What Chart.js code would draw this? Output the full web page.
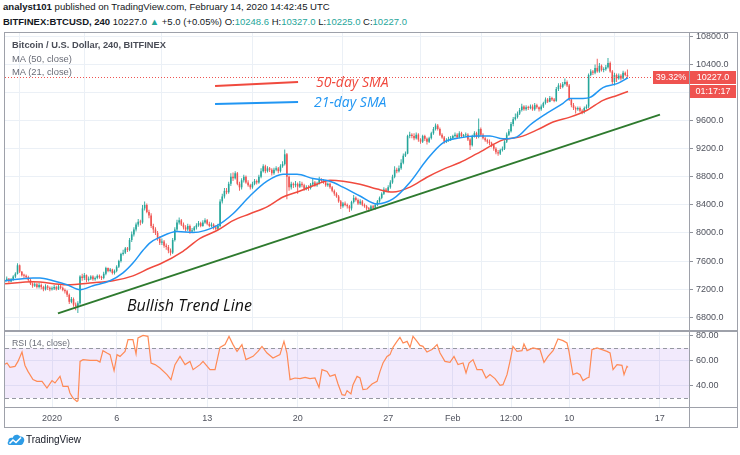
<!DOCTYPE html>
<html><head><meta charset="utf-8">
<script src="https://cdn.jsdelivr.net/npm/chart.js@4.4.0/dist/chart.umd.min.js"></script>
<style>
html,body{margin:0;padding:0;background:#fff;width:740px;height:455px;overflow:hidden;}
#wrap{position:relative;width:740px;height:455px;font-family:"Liberation Sans",Arial,sans-serif;}
.t{position:absolute;white-space:nowrap;line-height:12px;}
.g{color:#26a69a;}
.ln{position:absolute;background:#9ea1aa;z-index:5;}
canvas{position:absolute;}
</style></head><body>
<div id="wrap">
  <div class="t" data-w="327" style="left:3px;top:1px;font-size:10px;color:#131722"><b>analyst101</b> published on TradingView.com, February 14, 2020 14:42:45 UTC</div>
  <div class="t" data-w="404" style="left:3px;top:16px;font-size:10px;color:#131722"><b>BITFINEX:BTCUSD, 240</b> 10227.0 <span class="g">▲</span> +5.0 (+0.05%) O:<span class="g">10248.6</span> H:<span class="g">10327.0</span> L:<span class="g">10225.0</span> C:<span class="g">10227.0</span></div>

  <canvas id="main" width="733" height="297" style="left:5px;top:33px"></canvas>
  <canvas id="rsi" width="733" height="96" style="left:5px;top:332px"></canvas>

  <div class="ln" style="left:4px;top:32px;width:734px;height:1px"></div>
  <div class="ln" style="left:4px;top:427px;width:734px;height:1px"></div>
  <div class="ln" style="left:4px;top:32px;width:1px;height:396px"></div>
  <div class="ln" style="left:737px;top:32px;width:1px;height:396px"></div>
  <div class="ln" style="left:4px;top:330px;width:734px;height:2px"></div>
  <div class="ln" style="left:4px;top:407px;width:734px;height:1px"></div>
  <div class="ln" style="left:689px;top:32px;width:1px;height:396px"></div>

  <div class="t" data-w="154" style="left:12px;top:39px;font-size:10px;color:#4a4d57;font-weight:bold">Bitcoin / U.S. Dollar, 240, BITFINEX</div>
  <div class="t" data-w="60" style="left:12px;top:53px;font-size:10px;color:#6a6d78">MA (50, close)</div>
  <div class="t" data-w="60" style="left:12px;top:66px;font-size:10px;color:#6a6d78">MA (21, close)</div>
  <div class="t" data-w="58" style="left:12px;top:337px;font-size:10px;color:#6a6d78">RSI (14, close)</div>

  <svg style="position:absolute;left:7px;top:432px" width="18" height="14" viewBox="0 0 18 14">
    <path d="M3 13 C0.5 13 0 10.5 1.5 9 C1 6.5 3.5 5 5.5 6 C6.5 2.5 11 1.5 13 4.5 C16.5 4 18.5 7.5 16.5 10.5 C16 12.5 14.5 13 13 13 Z" fill="#2e9ce6"/>
    <path d="M2.5 11.5 L6 8 L9 10.5 L14 5.5" stroke="#fff" stroke-width="1.6" fill="none"/>
  </svg>
  <div class="t" data-w="55" style="left:26px;top:434px;font-size:11px;color:#131722">TradingView</div>
</div>
<script>
// ---------------- data ----------------
const candleStart = '2019-12-28T08:00:00Z';
const candleHours = 4;
const refDate = '2020-01-01T00:00:00Z';
const firstOpen = 7300;
const closes = [
 7330,7350,7310,7340,
 7380,7420,7540,7450,7400,7390,
 7370,7330,7280,7250,7270,7230,
 7260,7230,7200,7240,7220,7200,
 7210,7230,7200,7240,7220,7190,
 7170,7120,7020,7060,6980,6960,
 7000,7380,7360,7400,7330,7350,
 7380,7340,7360,7390,7370,7360,
 7420,7500,7460,7480,7430,7460,
 7520,7600,7700,7720,7780,7760,
 7900,7980,8050,8120,8160,8150,
 8350,8400,8300,8250,8100,8050,
 8000,7920,7860,7880,7820,7800,
 7750,7720,7900,8050,8150,8180,
 8120,8080,8050,8100,8020,8040,
 8080,8110,8140,8100,8150,8180,
 8130,8100,8120,8080,8060,8100,
 8450,8520,8600,8580,8700,8800,
 8780,8850,8700,8650,8750,8800,
 8720,8680,8650,8700,8740,8720,
 8800,8880,8950,8880,8920,8900,
 8850,8900,8920,8880,8950,8980,
 9120,8800,8650,8700,8680,8700,
 8660,8700,8680,8630,8650,8640,
 8690,8720,8680,8700,8760,8740,
 8720,8680,8700,8650,8600,8560,
 8520,8450,8380,8420,8400,8380,
 8350,8440,8500,8470,8420,8450,
 8400,8380,8350,8340,8380,8360,
 8400,8450,8500,8560,8620,8600,
 8650,8720,8800,8900,8880,8920,
 9000,9100,9130,9380,9400,9380,
 9350,9400,9330,9300,9380,9340,
 9300,9350,9420,9480,9530,9480,
 9400,9360,9300,9320,9340,9350,
 9380,9400,9360,9420,9380,9390,
 9400,9330,9250,9380,9420,9370,
 9480,9400,9350,9320,9300,9280,
 9250,9200,9150,9130,9180,9200,
 9300,9400,9450,9550,9620,9650,
 9700,9750,9800,9760,9790,9780,
 9800,9760,9820,9790,9760,9800,
 9850,9900,9870,9920,9900,9880,
 10050,10100,10080,10120,10150,10100,
 9900,9820,9780,9760,9780,9740,
 9720,9780,9800,10250,10300,10280,
 10350,10300,10380,10320,10330,10360,
 10420,10300,10150,10250,10200,10240,
 10200,10280,10249,10227
];
const highs = [
 7350,7380,7360,7360,
 7400,7440,7570,7550,7460,7420,
 7410,7390,7350,7300,7300,7290,
 7290,7280,7250,7270,7260,7240,
 7240,7260,7250,7270,7260,7240,
 7210,7190,7140,7090,7080,7010,
 7030,7400,7420,7430,7410,7380,
 7400,7400,7380,7410,7410,7390,
 7450,7520,7510,7500,7490,7480,
 7540,7620,7720,7760,7800,7800,
 7930,8020,8080,8150,8200,8190,
 8400,8450,8420,8330,8280,8130,
 8080,8030,7950,7920,7900,7850,
 7830,7780,7930,8080,8190,8220,
 8200,8150,8110,8130,8120,8070,
 8100,8140,8170,8160,8180,8210,
 8200,8160,8150,8140,8110,8130,
 8480,8560,8640,8640,8730,8850,
 8860,8880,8870,8730,8780,8830,
 8820,8750,8700,8730,8770,8760,
 8830,8920,8980,8970,8950,8940,
 8920,8930,8950,8940,8980,9020,
 9190,9140,8820,8730,8720,8740,
 8720,8740,8730,8700,8680,8680,
 8710,8780,8740,8730,8800,8780,
 8770,8750,8720,8720,8670,8620,
 8580,8540,8470,8440,8450,8420,
 8400,8460,8540,8520,8490,8480,
 8470,8420,8400,8370,8400,8400,
 8420,8470,8520,8580,8650,8640,
 8680,8750,8830,8950,8930,8960,
 9050,9130,9160,9400,9440,9420,
 9420,9430,9420,9350,9400,9400,
 9360,9370,9440,9510,9560,9550,
 9500,9420,9380,9350,9370,9380,
 9400,9430,9420,9450,9440,9410,
 9430,9420,9350,9400,9450,9440,
 9630,9500,9420,9370,9340,9330,
 9300,9270,9220,9180,9200,9230,
 9320,9430,9480,9580,9650,9700,
 9730,9780,9840,9820,9820,9810,
 9830,9830,9850,9840,9800,9830,
 9870,9930,9920,9950,9940,9920,
 10080,10130,10130,10150,10200,10170,
 10120,9920,9850,9800,9800,9800,
 9760,9800,9830,10270,10330,10320,
 10400,10480,10420,10400,10360,10390,
 10490,10440,10320,10280,10270,10270,
 10260,10310,10300,10327
];
const lows = [
 7280,7310,7290,7300,
 7320,7360,7410,7430,7380,7360,
 7340,7310,7260,7220,7230,7210,
 7210,7200,7170,7180,7190,7170,
 7180,7190,7180,7190,7200,7170,
 7140,7090,6990,7000,6950,6900,
 6860,6980,7320,7330,7300,7310,
 7330,7320,7320,7340,7350,7330,
 7340,7400,7440,7440,7410,7410,
 7440,7500,7580,7680,7700,7730,
 7740,7870,7950,8020,8090,8110,
 8130,8320,8280,8210,8070,8000,
 7970,7890,7830,7830,7790,7760,
 7710,7680,7700,7880,8020,8120,
 8100,8050,8020,8030,7990,8000,
 8020,8050,8090,8080,8090,8130,
 8110,8080,8080,8050,8040,8040,
 8080,8420,8490,8550,8560,8670,
 8740,8760,8680,8600,8620,8720,
 8700,8660,8620,8630,8680,8690,
 8700,8780,8860,8850,8860,8870,
 8820,8830,8880,8850,8860,8930,
 8960,8480,8600,8620,8640,8650,
 8560,8640,8650,8600,8610,8600,
 8620,8670,8660,8660,8690,8710,
 8700,8660,8660,8630,8580,8530,
 8500,8430,8340,8360,8380,8350,
 8300,8320,8420,8450,8400,8400,
 8380,8360,8320,8300,8320,8340,
 8330,8380,8430,8480,8540,8580,
 8580,8630,8700,8780,8850,8860,
 8900,8980,9080,9120,9350,9350,
 9320,9330,9300,9270,9280,9310,
 9260,9280,9330,9400,9460,9460,
 9380,9340,9270,9280,9300,9310,
 9330,9360,9340,9350,9360,9360,
 9370,9310,9180,9230,9360,9340,
 9350,9380,9330,9300,9270,9250,
 9220,9170,9120,9100,9110,9160,
 9180,9280,9380,9430,9520,9600,
 9630,9680,9730,9740,9740,9750,
 9760,9740,9740,9770,9730,9740,
 9780,9830,9850,9860,9880,9860,
 9870,10020,10050,10060,10100,10080,
 9880,9790,9750,9700,9740,9720,
 9690,9700,9760,9780,10230,10250,
 10260,10280,10280,10300,10290,10310,
 10340,10280,10120,10100,10150,10180,
 10170,10190,10230,10225
];
// moving averages: [day since 2020-01-01, price]
const ma50 = [[-3.63,7277],[-1.47,7305],[1.16,7263],[3.17,7291],[4.72,7319],[6.26,7390],[7.58,7502],[8.35,7558],[10.13,7740],[11.45,7923],[12.76,8035],[14.0,8176],[15.31,8274],[16.63,8372],[17.87,8512],[19.18,8597],[20.49,8695],[21.5,8751],[23.82,8695],[25.14,8625],[26.37,8582],[27.69,8653],[29.0,8793],[30.24,8905],[31.55,9004],[32.87,9130],[34.88,9326],[36.19,9368],[37.51,9467],[38.75,9579],[40.06,9649],[41.38,9747],[42.61,9888],[43.70,9958],[44.55,10014]];
const ma21 = [[-3.63,7320],[-1.47,7361],[-0.93,7361],[0.08,7320],[1.16,7263],[2.17,7193],[3.17,7249],[4.49,7320],[5.49,7432],[6.26,7572],[7.04,7754],[7.58,7860],[8.35,7940],[9.67,8021],[10.9,8007],[12.76,8105],[14.0,8274],[15.31,8527],[16.63,8737],[17.87,8835],[18.95,8835],[20.19,8775],[21.5,8737],[22.5,8653],[23.82,8526],[25.14,8414],[26.37,8484],[27.69,8723],[29.0,9046],[30.24,9284],[31.55,9354],[32.87,9380],[33.87,9382],[34.88,9340],[35.96,9368],[36.97,9537],[38.28,9705],[39.52,9846],[40.06,9916],[41.07,9916],[41.61,9930],[42.61,10070],[43.70,10126],[44.55,10210]];
const rsi14 = [[-3.63,57],[-3.48,58],[-3.25,54.5],[-2.86,55.3],[-2.63,59.3],[-2.32,66.8],[-2.09,56],[-1.86,51.3],[-1.47,44.7],[-1.16,43.3],[-0.77,43.3],[-0.39,38],[0,43.9],[0.23,42],[0.62,47.3],[0.85,39.3],[1.24,39.3],[1.39,34],[1.62,30],[1.93,27.3],[2.01,27.9],[2.17,59.3],[2.40,60.7],[2.94,60.1],[3.48,60.1],[3.71,58.8],[3.94,67.9],[4.25,66],[4.49,64.7],[4.80,51.9],[5.03,64.7],[5.26,63.3],[5.65,67.3],[5.88,76.7],[6.26,76.7],[6.50,65.2],[6.65,78.1],[7.04,80.1],[7.42,79.3],[7.66,58],[7.97,56.7],[8.35,54],[8.89,48.7],[9.20,44.7],[9.51,56.7],[9.90,63.3],[10.29,56.7],[10.67,59.3],[10.91,52.7],[11.45,56.7],[11.68,59.3],[12.22,52.7],[12.61,52.7],[12.99,70.5],[13.38,72.7],[13.69,79.3],[14.00,72.7],[14.31,67.3],[14.69,72.7],[15.00,60.7],[15.55,63.3],[15.93,67.3],[16.24,71.3],[16.63,66],[17.09,62],[17.63,64.7],[17.94,75.3],[18.17,66],[18.41,44.7],[18.79,46],[19.18,45.5],[19.57,46.5],[19.95,45.5],[20.34,46],[20.65,38.5],[20.88,52.7],[21.27,51.3],[21.50,47.3],[21.89,48.7],[22.12,41.2],[22.43,32.7],[22.66,32.1],[22.82,35.9],[23.12,33.2],[23.28,40.7],[23.59,47.3],[23.82,46],[24.05,36.7],[24.36,37.2],[24.75,41.2],[25.14,43.3],[25.37,51.3],[25.60,58],[25.91,63.3],[26.14,64.7],[26.37,70.5],[26.68,75.3],[26.91,78.5],[27.15,74],[27.46,75.3],[27.69,70.5],[27.92,79.3],[28.23,75.3],[28.46,72.1],[28.69,71.3],[29.00,66.8],[29.39,68.7],[29.78,72.7],[30.01,66],[30.39,59.3],[30.78,58.5],[31.09,63.3],[31.40,56.7],[31.79,58],[32.02,50],[32.25,58],[32.56,60.7],[32.87,52.7],[33.26,52.7],[33.57,46],[33.87,48.7],[34.26,45.5],[34.65,40.1],[34.88,40.7],[35.19,48.7],[35.42,59.3],[35.65,71.3],[35.96,67.3],[36.35,67.9],[36.50,73.2],[36.74,67.9],[37.20,70],[37.74,68.7],[38.05,58.5],[38.36,63.3],[38.75,67.9],[39.13,77.2],[39.52,75.9],[39.83,74],[39.98,67.3],[40.29,48.7],[40.60,50],[40.84,48.7],[41.07,43.9],[41.38,46],[41.53,46.5],[41.76,68.7],[42.15,70],[42.54,68.7],[42.92,67.3],[43.16,66],[43.39,52.7],[43.70,56.7],[44.08,56.1],[44.24,48.7],[44.47,55.3],[44.55,54.5]];
const trendLine = [[0.46,6855],[47.02,9685]];
const priceTicks = [6800,7200,7600,8000,8400,8800,9200,9600,10000,10400,10800];
const rsiTicks = [40,60,80];
const rsiBand = [30,70];
const xTickDays = [0,5,12,19,26,31,35.5,40,47];
const xTickLabels = ['2020','6','13','20','27','Feb','12:00','10','17'];
const lastPrice = 10227.0;
const lastPct = '39.32%';
const countdown = '01:17:17';

// ---------------- build ----------------
document.querySelectorAll('[data-w]').forEach(el=>{
  const w=+el.dataset.w, fs=parseFloat(getComputedStyle(el).fontSize);
  const a=el.getBoundingClientRect().width;
  if(a>0) el.style.fontSize=(fs*w/a).toFixed(2)+'px';
});

const UP='#26a69a', DN='#ef5350';
const DAY=864e5;
const t0=(Date.parse(candleStart)-Date.parse(refDate))/DAY;
const candles=closes.map((c,i)=>{
  const o=i===0?firstOpen:closes[i-1];
  return {x:t0+i*candleHours/24,o,c,h:Math.max(highs[i],o,c),l:Math.min(lows[i],o,c)};
});
const X_MIN=-3.635, X_MAX=49.265;
const GRID='#ebf0f6';
const tickFont={family:'"Liberation Sans", Arial, sans-serif',size:9};
const TICKCOL='#50535e';

function fixY(w){return s=>{s.width=w;s.paddingTop=0;s.paddingBottom=0;};}
const pts=a=>a.map(([x,y])=>({x,y}));

const mainDecor={
  id:'mainDecor',
  afterDatasetsDraw(chart){
    const {ctx,chartArea:ca,scales:{x,y}}=chart;
    ctx.save();
    // current price dotted line
    const py=Math.round(y.getPixelForValue(lastPrice))+0.5;
    ctx.strokeStyle=DN;ctx.lineWidth=1;ctx.setLineDash([1,2]);
    ctx.beginPath();ctx.moveTo(ca.left,py);ctx.lineTo(ca.right,py);ctx.stroke();
    ctx.setLineDash([]);
    // annotation strokes and texts (data-space coordinates)
    const o=chart.options.plugins.mainDecor;
    o.strokes.forEach(s=>{
      ctx.strokeStyle=s.color;ctx.lineWidth=s.width;
      ctx.beginPath();
      ctx.moveTo(x.getPixelForValue(s.from[0]),y.getPixelForValue(s.from[1]));
      ctx.lineTo(x.getPixelForValue(s.to[0]),y.getPixelForValue(s.to[1]));
      ctx.stroke();
    });
    ctx.textBaseline='middle';ctx.textAlign='left';
    o.texts.forEach(t=>{
      ctx.font=t.font;ctx.fillStyle=t.color;
      ctx.fillText(t.text,x.getPixelForValue(t.at[0]),y.getPixelForValue(t.at[1]));
    });
    ctx.restore();
  },
  afterDraw(chart){
    const {ctx,chartArea:ca,scales:{y},width}=chart;
    const py=Math.round(y.getPixelForValue(lastPrice));
    ctx.save();
    ctx.fillStyle=DN;
    ctx.fillRect(ca.right+1,py-6,width-ca.right-3,13);
    ctx.fillRect(ca.right+1,py+8,width-ca.right-3,13);
    ctx.fillRect(ca.right-36,py-6,36,13);
    ctx.fillStyle='#fff';ctx.font='9px "Liberation Sans", Arial, sans-serif';
    ctx.textBaseline='middle';ctx.textAlign='center';
    const cx=(ca.right+1+width-2)/2;
    ctx.fillText(lastPrice.toFixed(1),cx,py+0.5);
    ctx.fillText(countdown,cx,py+14.5);
    ctx.fillText(lastPct,ca.right-18,py+0.5);
    ctx.restore();
  }
};

new Chart(document.getElementById('main'),{
  type:'bar',
  data:{datasets:[
    {type:'line',label:'Trend',data:pts(trendLine),borderColor:'#2e7a2e',borderWidth:2,pointRadius:0,order:0},
    {type:'line',label:'MA21',data:pts(ma21),borderColor:'#2196f3',borderWidth:1.5,pointRadius:0,cubicInterpolationMode:'monotone',order:1},
    {type:'line',label:'MA50',data:pts(ma50),borderColor:'#f04a3e',borderWidth:1.5,pointRadius:0,cubicInterpolationMode:'monotone',order:1},
    {label:'Body',data:candles.map(k=>({x:k.x,y:[k.o,k.c]})),backgroundColor:candles.map(k=>k.c>=k.o?UP:DN),barThickness:1.6,minBarLength:1,grouped:false,inflateAmount:0,order:2},
    {label:'Wick',data:candles.map(k=>({x:k.x,y:[k.l,k.h]})),backgroundColor:candles.map(k=>k.c>=k.o?UP:DN),barThickness:0.9,grouped:false,inflateAmount:0,order:3}
  ]},
  options:{
    responsive:false,animation:false,events:[],
    layout:{padding:0},
    plugins:{legend:{display:false},tooltip:{enabled:false},
      mainDecor:{
        strokes:[
          {from:[12.61,10093],to:[19.03,10150],color:'#f04a3e',width:2},
          {from:[12.61,9837],to:[19.03,9865],color:'#2196f3',width:2}
        ],
        texts:[
          {text:'50-day SMA',at:[20.42,10135],color:'#f04a3e',font:'italic 14px "Open Sans", sans-serif'},
          {text:'21-day SMA',at:[20.26,9851],color:'#2196f3',font:'italic 14px "Open Sans", sans-serif'},
          {text:'Bullish Trend Line',at:[5.80,6948],color:'#111',font:'italic 16px "Open Sans", sans-serif'}
        ]
      }
    },
    scales:{
      x:{type:'linear',min:X_MIN,max:X_MAX,offset:false,
        afterBuildTicks:s=>{s.ticks=xTickDays.map(v=>({value:v}));},
        afterFit:s=>{s.height=0;s.paddingLeft=0;s.paddingRight=0;},
        ticks:{display:false},grid:{color:GRID,drawTicks:false},border:{display:false}},
      y:{position:'right',min:6619,max:10847,
        afterBuildTicks:s=>{s.ticks=priceTicks.map(v=>({value:v}));},
        afterFit:fixY(49),
        ticks:{color:TICKCOL,font:tickFont,padding:3,callback:v=>Number(v).toFixed(1)},
        grid:{color:GRID,tickLength:4,tickColor:'#8f929b'},border:{display:false}}
    }
  },
  plugins:[mainDecor]
});

const rsiDecor={
  id:'rsiDecor',
  beforeDatasetsDraw(chart){
    const {ctx,chartArea:ca,scales:{y}}=chart;
    const y1=y.getPixelForValue(rsiBand[1]), y0=y.getPixelForValue(rsiBand[0]);
    ctx.save();
    ctx.fillStyle='rgba(150,80,230,0.12)';
    ctx.fillRect(ca.left,y1,ca.right-ca.left,y0-y1);
    ctx.strokeStyle='#9598a1';ctx.lineWidth=1;ctx.setLineDash([4,3]);
    [y1,y0].forEach(v=>{const p=Math.round(v)+0.5;ctx.beginPath();ctx.moveTo(ca.left,p);ctx.lineTo(ca.right,p);ctx.stroke();});
    ctx.restore();
  }
};

new Chart(document.getElementById('rsi'),{
  type:'line',
  data:{datasets:[
    {label:'RSI',data:pts(rsi14),borderColor:'#ff8a55',borderWidth:1.2,pointRadius:0,tension:0}
  ]},
  options:{
    responsive:false,animation:false,events:[],
    layout:{padding:0},
    plugins:{legend:{display:false},tooltip:{enabled:false}},
    scales:{
      x:{type:'linear',min:X_MIN,max:X_MAX,offset:false,
        afterBuildTicks:s=>{s.ticks=xTickDays.map(v=>({value:v}));},
        afterFit:s=>{s.height=21;s.paddingLeft=0;s.paddingRight=0;},
        ticks:{color:TICKCOL,font:tickFont,padding:6,autoSkip:false,maxRotation:0,callback:(v,i)=>xTickLabels[i]},
        grid:{color:GRID,drawTicks:false},border:{display:false}},
      y:{position:'right',min:22.8,max:82.8,
        afterBuildTicks:s=>{s.ticks=rsiTicks.map(v=>({value:v}));},
        afterFit:fixY(49),
        ticks:{color:TICKCOL,font:tickFont,padding:3,callback:v=>Number(v).toFixed(2)},
        grid:{color:GRID,tickLength:4,tickColor:'#8f929b'},border:{display:false}}
    }
  },
  plugins:[rsiDecor]
});
</script>
</body></html>
